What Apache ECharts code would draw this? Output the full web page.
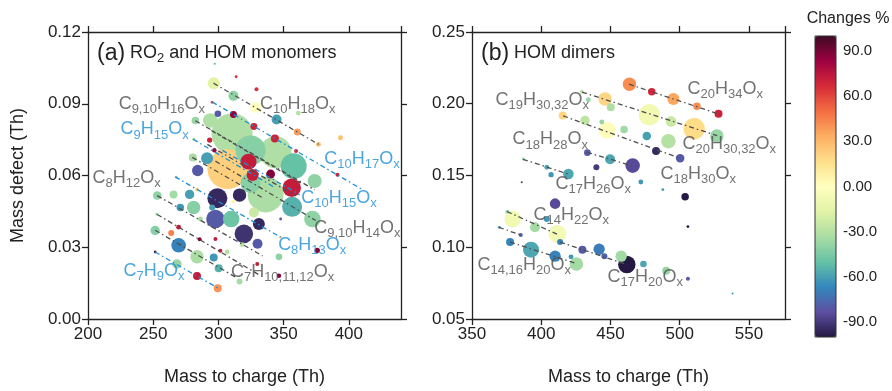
<!DOCTYPE html>
<html>
<head>
<meta charset="utf-8">
<script src="https://cdn.jsdelivr.net/npm/echarts@6/dist/echarts.min.js"></script>
<style>
  html, body { margin: 0; padding: 0; background: #fff; }
  #chart { width: 892px; height: 391px; }
</style>
</head>
<body>
<div id="chart"></div>
<script>
// [mass to charge, mass defect, abundance, change %]
const monomerPoints = [
  [296.4, 0.0986, 36, -16], [311.5, 0.0933, 25, -40], [328.5, 0.0885, 30, 0],
  [344.6, 0.0834, 25, -60], [360.5, 0.0782, 12, 38], [376.7, 0.0730, 6, 28],
  [361.3, 0.0861, 6, -30], [393.6, 0.0758, 6, 28], [313.6, 0.1013, 2, 65],
  [329.2, 0.0961, 4, 65], [297.2, 0.1067, 1, -55], [295.2, 0.0906, 2, 65],
  [311.5, 0.0855, 12, 85], [327.2, 0.0805, 12, 70], [343.3, 0.0755, 16, 70],
  [359.5, 0.0702, 4, 70], [391.3, 0.0603, 4, 70], [299.6, 0.0858, 11, -80],
  [282.3, 0.0830, 14, -38], [293.8, 0.0830, 53, -32], [310.5, 0.0775, 420, -32],
  [324.6, 0.0705, 225, -42], [343.8, 0.0697, 256, -32], [357.7, 0.0639, 169, -50],
  [373.8, 0.0577, 49, -40], [293.3, 0.0748, 7, 70], [281.0, 0.0752, 2, -38],
  [296.9, 0.0706, 5, 85], [291.3, 0.0672, 36, -60], [280.4, 0.0675, 16, -34],
  [284.1, 0.0621, 32, -80], [267.7, 0.0593, 2, -38], [306.9, 0.0627, 400, 22],
  [323.1, 0.0658, 64, 72], [326.2, 0.0602, 36, 72], [340.0, 0.0606, 20, 88],
  [356.2, 0.0549, 86, 72], [336.2, 0.0521, 324, -33], [324.6, 0.0569, 100, -42],
  [356.5, 0.0469, 100, -55], [372.1, 0.0418, 69, -40], [347.7, 0.0418, 2, -80],
  [299.2, 0.0505, 100, -95], [316.2, 0.0518, 45, -95], [311.3, 0.0491, 4, 5],
  [283.6, 0.0541, 4, 20], [277.9, 0.0521, 22, -60], [265.6, 0.0521, 16, -35],
  [253.1, 0.0516, 18, -40], [270.8, 0.0466, 14, -62], [281.0, 0.0466, 45, -42],
  [295.2, 0.0466, 9, -60], [297.7, 0.0418, 86, -80], [309.8, 0.0418, 69, -48],
  [327.2, 0.0445, 25, -24], [331.0, 0.0397, 36, -95], [319.5, 0.0356, 86, -92],
  [330.0, 0.0315, 25, -80], [286.2, 0.0418, 6, -35], [252.8, 0.0438, 2, -40],
  [269.5, 0.0384, 6, 72], [251.5, 0.0370, 22, -42], [263.8, 0.0360, 9, 45],
  [269.5, 0.0308, 53, -68], [285.6, 0.0333, 4, 88], [297.7, 0.0334, 4, 72],
  [301.5, 0.0285, 4, 72], [306.7, 0.0280, 6, -30], [251.5, 0.0280, 2, -95],
  [283.6, 0.0260, 45, -33], [296.4, 0.0257, 16, -62], [268.2, 0.0230, 22, -38],
  [300.2, 0.0212, 16, -55], [283.6, 0.0180, 16, 72], [299.5, 0.0129, 16, 40],
  [316.2, 0.0157, 9, -34], [329.8, 0.0230, 4, 72], [346.4, 0.0260, 11, -40],
  [375.8, 0.0287, 7, 88], [346.4, 0.0181, 5, 88], [347.7, 0.0342, 2, 22],
  [318.2, 0.0311, 6, -30]
];

const dimerPoints = [
  [463.7, 0.2136, 45, 42], [479.8, 0.2083, 14, 68], [495.4, 0.2033, 36, 35],
  [512.4, 0.1982, 14, 42], [528.0, 0.1930, 16, 70], [429.3, 0.2083, 4, -28],
  [434.0, 0.2028, 6, -38], [446.1, 0.2033, 45, 20], [450.2, 0.1976, 16, -32],
  [478.1, 0.1923, 114, -8], [493.8, 0.1877, 28, -24], [510.4, 0.1826, 114, 18],
  [526.8, 0.1776, 45, -38], [415.5, 0.1918, 16, 20], [431.6, 0.1884, 22, -28],
  [443.7, 0.1873, 6, -38], [447.8, 0.1815, 69, 2], [459.8, 0.1820, 14, -36],
  [476.2, 0.1776, 18, -60], [491.8, 0.1739, 53, -30], [482.9, 0.1670, 16, -95],
  [500.3, 0.1620, 18, -80], [433.3, 0.1659, 11, -80], [449.7, 0.1613, 25, -58],
  [439.8, 0.1558, 9, -90], [466.0, 0.1569, 53, -85], [471.9, 0.1455, 6, -62],
  [487.8, 0.1402, 2, -62], [503.9, 0.1352, 14, -100], [505.9, 0.1144, 2, -100],
  [505.9, 0.0780, 4, -80], [538.1, 0.0677, 1, -62], [387.1, 0.1615, 2, -40],
  [404.0, 0.1558, 6, -58], [407.1, 0.1506, 7, -62], [419.6, 0.1510, 28, -58],
  [385.9, 0.1453, 1, -90], [410.0, 0.1304, 28, -85], [375.5, 0.1247, 4, -38],
  [379.4, 0.1196, 69, -8], [404.0, 0.1196, 9, -62], [395.5, 0.1139, 25, -35],
  [411.6, 0.1093, 81, -7], [369.7, 0.1139, 2, -62], [385.2, 0.1086, 4, -80],
  [413.6, 0.1036, 9, -68], [429.7, 0.0983, 16, -80], [441.8, 0.0986, 32, -70],
  [445.6, 0.0938, 9, -78], [457.7, 0.0938, 32, -35], [461.8, 0.0880, 76, -100],
  [473.8, 0.0883, 11, -58], [490.2, 0.0837, 16, -38], [377.5, 0.1036, 16, -68],
  [392.6, 0.0983, 64, -58], [410.0, 0.0938, 32, -68], [421.5, 0.0933, 6, -62],
  [425.4, 0.0883, 45, -35]
];

// homologous series guide lines (start, end)
const monomerLinesGray = [
  [[296.2, 0.0986], [376.9, 0.0730]], [[282.3, 0.0829], [373.8, 0.0540]],
  [[294.6, 0.0788], [363.1, 0.0569]], [[291.5, 0.0730], [359.2, 0.0515]],
  [[280.0, 0.0676], [333.8, 0.0507]], [[297.7, 0.0660], [374.6, 0.0412]],
  [[253.1, 0.0516], [333.8, 0.0264]], [[253.1, 0.0437], [332.3, 0.0181]],
  [[251.5, 0.0371], [313.8, 0.0173]]
];
const monomerLinesBlue = [
  [[295.4, 0.0907], [410.8, 0.0540]], [[280.8, 0.0751], [343.8, 0.0548]],
  [[303.1, 0.0705], [362.3, 0.0520]], [[266.9, 0.0594], [347.7, 0.0342]],
  [[251.5, 0.0280], [300.0, 0.0128]]
];
const dimerLines = [
  [[463.4, 0.2136], [527.7, 0.1930]], [[429.5, 0.2081], [527.0, 0.1778]],
  [[415.8, 0.1916], [500.3, 0.1620]], [[433.1, 0.1662], [466.3, 0.1565]],
  [[386.8, 0.1613], [419.4, 0.1510]], [[375.3, 0.1249], [411.4, 0.1091]],
  [[369.5, 0.1139], [385.4, 0.1084]], [[377.5, 0.1036], [425.9, 0.0885]],
  [[413.6, 0.1036], [462.0, 0.0878]]
];

const monomerLabelsGray = [
  [331.5, 0.0891, 'C10H18Ox'], [223.1, 0.0891, 'C9,10H16Ox'], [203.1, 0.0581, 'C8H12Ox'],
  [373.1, 0.0371, 'C9,10H14Ox'], [309.2, 0.0190, 'C7H10,11,12Ox']
];
const monomerLabelsBlue = [
  [224.6, 0.0784, 'C9H15Ox'], [380.8, 0.0660, 'C10H17Ox'], [363.1, 0.0499, 'C10H15Ox'],
  [345.4, 0.0301, 'C8H13Ox'], [226.9, 0.0194, 'C7H9Ox']
];
const dimerLabels = [
  [505.3, 0.2088, 'C20H34Ox'], [366.6, 0.2012, 'C19H30,32Ox'], [378.9, 0.1737, 'C18H28Ox'],
  [501.7, 0.1703, 'C20H30,32Ox'], [485.8, 0.1497, 'C18H30Ox'], [410.0, 0.1428, 'C17H26Ox'],
  [394.1, 0.1208, 'C14H22Ox'], [353.6, 0.0864, 'C14,16H20Ox'], [447.5, 0.0782, 'C17H20Ox']
];

const colorTicks = [-90, -60, -30, 0, 30, 60, 90];

const FONT = 'Liberation Sans, Arial, sans-serif';
const AX = '#222';
const GRAY = '#4f4f4f';
const BLUE = '#1f8fd4';
const PALETTE = ['#231942', '#5e4fa2', '#3288bd', '#66c2a5', '#abdda4', '#e2f3a6', '#ffffbf',
  '#fee08b', '#fdae61', '#f46d43', '#d62a38', '#9e0142', '#3d0a23'];

const chart = echarts.init(document.getElementById('chart'));

function richStyle(size, color) {
  const sub = Math.round(size * 0.72);
  return {
    m: { fontFamily: FONT, fontSize: size, fontWeight: 'normal', color, lineHeight: size + 2, verticalAlign: 'bottom', padding: [0, 0, 3, 0] },
    s: { fontFamily: FONT, fontSize: sub, fontWeight: 'normal', color, lineHeight: sub + 1, verticalAlign: 'bottom' },
    p: { fontFamily: FONT, fontSize: size + 5, fontWeight: 'normal', color, lineHeight: size + 6, verticalAlign: 'bottom' }
  };
}

function toRich(f) {
  return f.replace(/([A-Z]+)|([0-9,x]+)/g, (w, a, b) => a ? '{m|' + a + '}' : '{s|' + b + '}');
}

function axis(gi, pos, min, max, interval, labels, fmt, name, nameGap) {
  return {
    type: 'value', gridIndex: gi, position: pos, min, max, interval,
    name: name || '', nameLocation: 'middle', nameGap: nameGap || 0,
    nameTextStyle: { fontFamily: FONT, fontSize: 18, color: AX },
    axisLine: { show: true, onZero: false, lineStyle: { color: AX, width: 1.3 } },
    axisTick: { show: true, length: 6, lineStyle: { color: AX, width: 1.3 } },
    axisLabel: { show: labels, fontFamily: FONT, fontSize: 17, color: AX, margin: 7, formatter: fmt },
    splitLine: { show: false }
  };
}

const fmt2 = v => v.toFixed(2);

function lineSeries(lines, axisIdx, color) {
  return lines.map(seg => ({
    type: 'line', xAxisIndex: axisIdx, yAxisIndex: axisIdx, data: seg,
    symbol: 'none', silent: true, z: 3,
    lineStyle: { color, width: 1.3, type: [5, 3, 1.5, 3] }
  }));
}

function labelSeries(labels, axisIdx, color) {
  return {
    type: 'scatter', xAxisIndex: axisIdx, yAxisIndex: axisIdx, silent: true, z: 5,
    data: labels, symbolSize: 1, itemStyle: { color: 'rgba(0,0,0,0)' },
    label: {
      show: true, position: 'right', distance: 0,
      formatter: p => toRich(p.data[2]), rich: richStyle(18, color)
    }
  };
}

function bubbleSeries(points, axisIdx) {
  return {
    type: 'scatter', xAxisIndex: axisIdx, yAxisIndex: axisIdx, z: 2,
    data: points.slice().sort((p, q) => q[2] - p[2]),
    symbolSize: d => 2 * Math.sqrt(d[2]),
    itemStyle: { opacity: 1 }
  };
}

const titleRich = richStyle(18, AX);
const xBottomA = axis(0, 'bottom', 200, 440, 50, true, null, 'Mass to charge (Th)', 49);
const xBottomB = axis(1, 'bottom', 350, 576, 50, true, null, 'Mass to charge (Th)', 49);
xBottomA.axisLabel.showMaxLabel = false;
xBottomB.axisLabel.showMaxLabel = false;

chart.setOption({
  animation: false,
  backgroundColor: '#fff',
  title: [
    { left: 97, top: 41, padding: 0, text: '{p|(a)}{m| RO}{s|2}{m| and HOM monomers}', textStyle: { fontWeight: 'normal', rich: titleRich } },
    { left: 481, top: 41, padding: 0, text: '{p|(b)}{m| HOM dimers}', textStyle: { fontWeight: 'normal', rich: titleRich } },
    { left: 848, top: 11, padding: 0, textAlign: 'center', text: 'Changes %',
      textStyle: { fontFamily: FONT, fontSize: 16, fontWeight: 'normal', color: AX } }
  ],
  grid: [
    { left: 88, top: 32, width: 313, height: 291 },
    { left: 472, top: 32, width: 313, height: 291 },
    { left: 815, top: 36, width: 21, height: 301, show: true, borderColor: '#333', borderWidth: 1,
      backgroundColor: 'rgba(0,0,0,0)', z: 10 }
  ],
  xAxis: [
    xBottomA,
    axis(0, 'top', 200, 440, 50, false),
    xBottomB,
    axis(1, 'top', 350, 576, 50, false),
    { type: 'value', gridIndex: 2, min: 0, max: 1, show: false }
  ],
  yAxis: [
    axis(0, 'left', 0, 0.12, 0.03, true, fmt2, 'Mass defect (Th)', 61),
    axis(0, 'right', 0, 0.12, 0.03, false),
    axis(1, 'left', 0.05, 0.25, 0.05, true, fmt2),
    axis(1, 'right', 0.05, 0.25, 0.05, false),
    {
      type: 'value', gridIndex: 2, position: 'right', min: -100, max: 100,
      axisLine: { show: false },
      axisTick: { show: true, length: 5, customValues: colorTicks, lineStyle: { color: '#333' } },
      axisLabel: { show: true, customValues: colorTicks, margin: 7, fontFamily: FONT, fontSize: 15, color: AX,
        formatter: v => v === 0 ? '0.00' : v.toFixed(1) },
      splitLine: { show: false }
    }
  ],
  visualMap: {
    type: 'continuous', min: -100, max: 100, dimension: 3, seriesIndex: [0, 1],
    calculable: false, hoverLink: false, left: 815, top: 36, padding: 0,
    itemWidth: 21, itemHeight: 301, inRange: { color: PALETTE }
  },
  series: [
    bubbleSeries(monomerPoints, 0),
    bubbleSeries(dimerPoints, 2),
    ...lineSeries(monomerLinesGray, 0, GRAY),
    ...lineSeries(monomerLinesBlue, 0, BLUE),
    ...lineSeries(dimerLines, 2, GRAY),
    labelSeries(monomerLabelsGray, 0, GRAY),
    labelSeries(monomerLabelsBlue, 0, BLUE),
    labelSeries(dimerLabels, 2, GRAY)
  ]
});

window.addEventListener('resize', () => chart.resize());
</script>
</body>
</html>
